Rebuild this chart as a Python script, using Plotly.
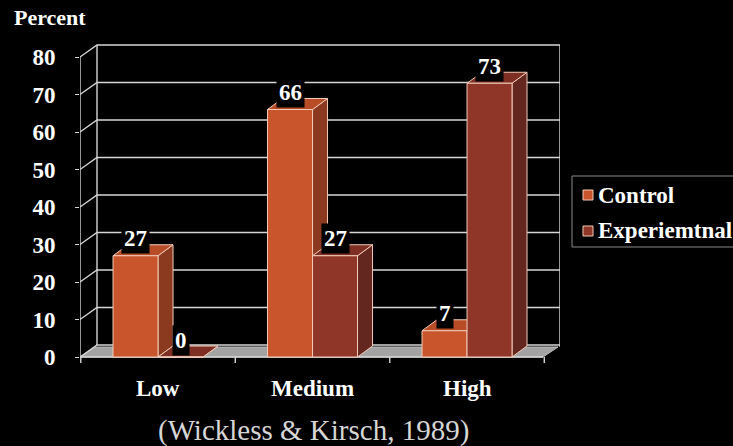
import plotly.graph_objects as go

# ---- data ----
categories = ["Low", "Medium", "High"]
control = [27, 66, 7]
experimental = [0, 27, 73]
series_names = ["Control", "Experiemtnal"]
y_ticks = [0, 10, 20, 30, 40, 50, 60, 70, 80]
y_title = "Percent"
citation = "(Wickless & Kirsch, 1989)"

# ---- styling / geometry ----
W, H = 733, 446
ML, MR, MT, MB = 80, 173, 42, 59
PW, PH = W - ML - MR, H - MT - MB
XPX = 154.5          # px per category unit
YPX = 3.75           # px per percent
X0 = -0.505
X1 = X0 + PW / XPX
Y0 = -30 / YPX
Y1 = 315 / YPX

BAR_W = 45 / XPX
BDX, BDY = 15 / XPX, 11 / YPX      # bar depth
GDX, GDY = 17 / XPX, 12 / YPX      # wall depth
FDX, FDY = 15 / XPX, 10 / YPX      # floor depth
X_FRONT_RIGHT = X0 + 463 / XPX

FONT = "Liberation Serif"
GRID = "#d6d6d6"
EDGE = "#f1cbb8"
COLORS = {
    "Control": dict(front="#c9552c", top="#b84c27", side="#8c3a1f"),
    "Experiemtnal": dict(front="#8f3628", top="#7e2e22", side="#642720"),
}

def px_x(px):   # page pixel -> paper x
    return (px - ML) / PW

def px_y(py):   # page pixel -> paper y
    return 1 - (py - MT) / PH

fig = go.Figure()

def poly(xs, ys, fill, line=EDGE, lw=1):
    fig.add_trace(go.Scatter(
        x=list(xs) + [xs[0]], y=list(ys) + [ys[0]], mode="lines",
        fill="toself", fillcolor=fill, line=dict(color=line, width=lw),
        hoverinfo="skip", showlegend=False))

# floor
poly([X0, X_FRONT_RIGHT, X_FRONT_RIGHT + FDX, X0 + FDX],
     [0, 0, FDY, FDY], "#a3a3a3", line="#bdbdbd")

# back wall grid + diagonals
gx, gy = [], []
for v in y_ticks:
    gx += [X0, X0 + GDX, X1, None]
    gy += [v, v + GDY, v + GDY, None]
gx += [X0 + GDX, X0 + GDX, None, X1, X1, None, X0, X0, None]
gy += [GDY, y_ticks[-1] + GDY, None, FDY, y_ticks[-1] + GDY, None, 0, y_ticks[-1], None]
for b in [-0.5, 0.5, 1.5, 2.5]:
    gx += [b, b, None]
    gy += [0, -6 / YPX, None]
gx += [X0, X_FRONT_RIGHT, None]
gy += [0, 0, None]
fig.add_trace(go.Scatter(x=gx, y=gy, mode="lines", line=dict(color=GRID, width=1.4),
                         hoverinfo="skip", showlegend=False))

# bars
annotations = []
for i, cat in enumerate(categories):
    for k, (name, vals) in enumerate(zip(series_names, [control, experimental])):
        v = vals[i]
        c = COLORS[name]
        xa = i - BAR_W + k * BAR_W
        xb = xa + BAR_W
        poly([xb, xb + BDX, xb + BDX, xb], [0, BDY, v + BDY, v], c["side"])
        poly([xa, xb, xb + BDX, xa + BDX], [v, v, v + BDY, v + BDY], c["top"])
        poly([xa, xb, xb, xa], [0, 0, v, v], c["front"])
        annotations.append(dict(
            x=(xa + xb) / 2, y=v + 17 / YPX, xref="x", yref="y", text=str(v),
            showarrow=False, bgcolor="black", borderpad=2,
            font=dict(family=FONT, size=23, color="white", weight="bold")))

# category labels
for i, cat in enumerate(categories):
    annotations.append(dict(
        x=i, y=px_y(388), xref="x", yref="paper", text=cat, showarrow=False,
        yanchor="middle",
        font=dict(family=FONT, size=23, color="white", weight="bold")))

# manual legend (box, swatches, labels)
shapes = [dict(type="rect", xref="paper", yref="paper",
               x0=px_x(572), x1=px_x(740), y0=px_y(247), y1=px_y(176),
               line=dict(color="#8a8a8a", width=1), fillcolor="black", layer="above")]
for gi, (name, ypix) in enumerate(zip(series_names, [195, 231])):
    shapes.append(dict(type="rect", xref="paper", yref="paper",
                       x0=px_x(583), x1=px_x(593), y0=px_y(ypix + 5), y1=px_y(ypix - 5),
                       line=dict(color=EDGE, width=1), fillcolor=COLORS[name]["front"],
                       layer="above"))
    annotations.append(dict(
        x=px_x(596), y=px_y(ypix), xref="paper", yref="paper", text=name,
        xanchor="left", yanchor="middle", showarrow=False,
        font=dict(family=FONT, size=23, color="white", weight="bold")))

annotations.append(dict(
    x=px_x(12), y=px_y(18), xref="paper", yref="paper",
    xanchor="left", yanchor="middle", text=y_title, showarrow=False,
    font=dict(family=FONT, size=22, color="white", weight="bold")))
annotations.append(dict(
    x=px_x(313), y=px_y(430), xref="paper", yref="paper",
    xanchor="center", yanchor="middle", text=citation, showarrow=False,
    font=dict(family=FONT, size=29, color="#d6d6d6")))

fig.update_layout(
    width=W, height=H, margin=dict(l=ML, r=MR, t=MT, b=MB),
    paper_bgcolor="black", plot_bgcolor="black",
    xaxis=dict(range=[X0, X1], showgrid=False, zeroline=False, showticklabels=False,
               ticks="", showline=False, fixedrange=True),
    yaxis=dict(range=[Y0, Y1], showgrid=False, zeroline=False, tickvals=y_ticks,
               ticks="outside", ticklen=4, tickcolor=GRID, showline=False,
               ticklabelstandoff=15,
               tickfont=dict(family=FONT, size=23, color="white", weight="bold"),
               fixedrange=True),
    annotations=annotations,
    shapes=shapes,
    showlegend=False,
)

fig.write_html("out.html")
